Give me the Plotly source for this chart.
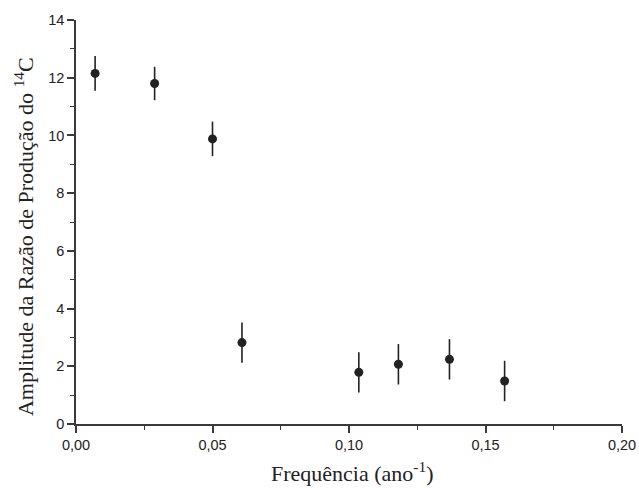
import plotly.graph_objects as go

freq = [0.0070, 0.0288, 0.0500, 0.0608, 0.1036, 0.1181, 0.1368, 0.1570]
amp = [12.15, 11.8, 9.88, 2.82, 1.79, 2.07, 2.24, 1.49]
err = [0.6, 0.58, 0.6, 0.7, 0.7, 0.7, 0.7, 0.7]

x_title = "Frequência (ano<sup>-1</sup>)"
y_title = "Amplitude da Razão de Produção do <sup>14</sup>C"

fig = go.Figure()
fig.add_trace(go.Scatter(
    x=freq, y=amp, mode="markers",
    marker=dict(color="#222222", size=9),
    error_y=dict(type="data", array=err, visible=True, width=0, thickness=1.6, color="#222222"),
    showlegend=False,
))

axis_col = "#3a3a3a"
fig.update_layout(
    width=639, height=488,
    margin=dict(l=76, r=17, t=20, b=64),
    paper_bgcolor="white", plot_bgcolor="white",
    separators=",.",
    xaxis=dict(
        range=[0, 0.2], tick0=0, dtick=0.05, tickformat=".2f", automargin=False,
        showgrid=False, zeroline=False, showline=True, linecolor=axis_col, linewidth=1.6,
        ticks="outside", ticklen=7, tickwidth=1.5, tickcolor=axis_col,
        minor=dict(dtick=0.025, ticks="outside", ticklen=4, tickcolor=axis_col, tickwidth=1.2),
        tickfont=dict(family="Liberation Sans, Arial", size=14.5, color="#222222"),
    ),
    yaxis=dict(
        range=[0, 14], tick0=0, dtick=2, automargin=False,
        showgrid=False, zeroline=False, showline=True, linecolor=axis_col, linewidth=1.6,
        ticks="outside", ticklen=7, tickwidth=1.5, tickcolor=axis_col,
        minor=dict(dtick=1, ticks="outside", ticklen=4, tickcolor=axis_col, tickwidth=1.2),
        tickfont=dict(family="Liberation Sans, Arial", size=14.5, color="#222222"),
    ),
    annotations=[
        dict(text=x_title, xref="paper", yref="paper", x=0.505, y=-0.118,
             xanchor="center", yanchor="middle", showarrow=False,
             font=dict(family="Liberation Serif, Times New Roman", size=22, color="#222222")),
        dict(text=y_title, xref="paper", yref="paper", x=-0.095, y=0.463,
             xanchor="center", yanchor="middle", showarrow=False, textangle=-90,
             font=dict(family="Liberation Serif, Times New Roman", size=22, color="#222222")),
    ],
)

fig.write_html("out.html")
